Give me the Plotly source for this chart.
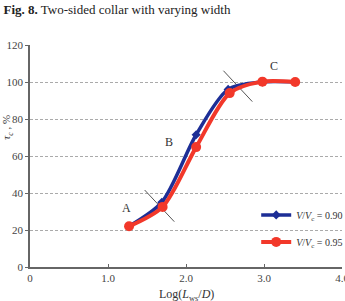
import plotly.graph_objects as go

# Data
x_blue = [1.27, 1.69, 2.13, 2.54, 2.98, 3.40]
y_blue = [22.0, 35.0, 71.5, 96.0, 100.0, 100.0]
x_red = [1.27, 1.70, 2.13, 2.56, 2.98, 3.40]
y_red = [22.0, 32.5, 64.8, 94.0, 100.2, 100.0]
name_blue = "<i>V</i>/<i>V</i><sub>c</sub> = 0.90"
name_red = "<i>V</i>/<i>V</i><sub>c</sub> = 0.95"
x_ticks = [0, 1, 2, 3, 4]
x_ticklabels = ["0", "1.0", "2.0", "3.0", "4.0"]
y_ticks = [0, 20, 40, 60, 80, 100, 120]
zone_labels = ["A", "B", "C"]
zone_x = [1.24, 1.78, 3.13]
zone_y = [32, 67.5, 108.5]
div1_x = [1.47, 1.85]
div1_y = [41.6, 24.5]
div2_x = [2.48, 2.85]
div2_y = [106.1, 89.4]

serif = "Liberation Serif"
blue = "#1d2e96"
red = "#f2382a"

fig = go.Figure()
fig.add_trace(go.Scatter(x=div1_x, y=div1_y, mode="lines", line=dict(color="#555555", width=1),
                         showlegend=False, hoverinfo="skip"))
fig.add_trace(go.Scatter(x=div2_x, y=div2_y, mode="lines", line=dict(color="#555555", width=1),
                         showlegend=False, hoverinfo="skip"))
fig.add_trace(go.Scatter(x=x_blue, y=y_blue, mode="lines+markers", name=name_blue,
                         line=dict(color=blue, width=3.5, shape="spline", smoothing=0.8),
                         marker=dict(symbol="diamond", size=7, color=blue), legendgroup="b"))
fig.add_trace(go.Scatter(x=x_red, y=y_red, mode="lines+markers", name=name_red,
                         line=dict(color=red, width=4, shape="spline", smoothing=0.8),
                         marker=dict(symbol="circle", size=10, color=red), legendgroup="r"))

for t, xx, yy in zip(zone_labels, zone_x, zone_y):
    fig.add_annotation(x=xx, y=yy, text=t, showarrow=False,
                       font=dict(family=serif, size=12, color="#333333"))

fig.add_annotation(xref="paper", yref="paper", x=-0.072, y=0.63, xanchor="center", yanchor="middle",
                   text="<i>τ<sub>c</sub></i> , %",
                   textangle=-90, showarrow=False, font=dict(family=serif, size=11, color="#333333"))
fig.add_annotation(xref="paper", yref="paper", x=0.5, y=-0.125, xanchor="center", yanchor="middle",
                   text="Log(<i>L</i><sub>ws</sub>/<i>D</i>)", showarrow=False,
                   font=dict(family=serif, size=12, color="#333333"))

fig.update_layout(
    width=345, height=301,
    margin=dict(l=30, r=3, t=45, b=34, autoexpand=False),
    paper_bgcolor="white", plot_bgcolor="white",
    title=dict(text="<b>Fig. 8.</b> Two-sided collar with varying width", xref="container",
               x=0.01, xanchor="left", y=0.967, yanchor="middle",
               font=dict(family=serif, size=13, color="#222222")),
    xaxis=dict(range=[0, 4], tickvals=x_ticks, ticktext=x_ticklabels, showgrid=False,
               showline=True, linecolor="#666666", linewidth=1.5, ticks="inside", ticklen=3,
               tickcolor="#666666", zeroline=False,
               ticklabeloverflow="allow",
               tickfont=dict(family=serif, size=11, color="#444444")),
    yaxis=dict(range=[0, 120], tickvals=y_ticks, showgrid=True, gridcolor="#aaaaaa",
               griddash="3px,2px", gridwidth=1, showline=True, linecolor="#666666", linewidth=1.5,
               ticks="outside", ticklen=3, tickcolor="#666666", zeroline=False,
               tickfont=dict(family=serif, size=11, color="#444444")),
    legend=dict(x=0.725, y=0.3, xanchor="left", yanchor="top", bgcolor="rgba(0,0,0,0)",
                font=dict(family=serif, size=10, color="#333333"), tracegroupgap=8,
                itemwidth=30),
    showlegend=True,
)

fig.write_html("out.html")
